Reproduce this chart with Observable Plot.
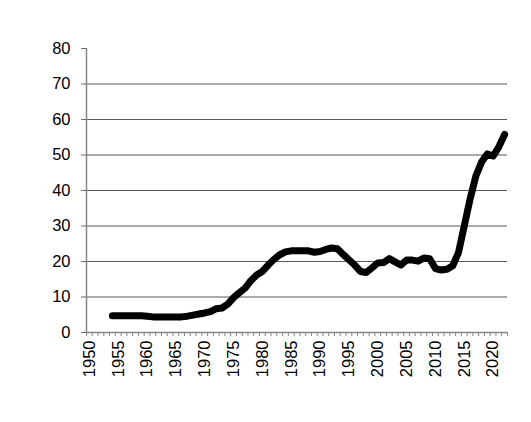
<!DOCTYPE html>
<html><head><meta charset="utf-8">
<script src="https://cdn.jsdelivr.net/npm/d3@7"></script>
<script src="https://cdn.jsdelivr.net/npm/@observablehq/plot@0.6"></script>
<style>body{margin:0;background:#fff;} #chart{width:531px;height:422px;} #chart svg text{font-family:"Liberation Sans",Arial,sans-serif;}</style>
</head><body><div id="chart"></div>
<script>
const years = [1954,1955,1956,1957,1958,1959,1960,1961,1962,1963,1964,1965,1966,1967,1968,1969,1970,1971,1972,1973,1974,1975,1976,1977,1978,1979,1980,1981,1982,1983,1984,1985,1986,1987,1988,1989,1990,1991,1992,1993,1994,1995,1996,1997,1998,1999,2000,2001,2002,2003,2004,2005,2006,2007,2008,2009,2010,2011,2012,2013,2014,2015,2016,2017,2018,2019,2020,2021,2022];
const values = [4.7,4.7,4.7,4.7,4.7,4.7,4.6,4.4,4.4,4.4,4.4,4.4,4.4,4.6,4.9,5.2,5.5,5.9,6.7,6.9,8.0,9.8,11.2,12.5,14.6,16.2,17.2,19.0,20.6,21.9,22.7,23.0,23.0,23.0,23.0,22.6,22.8,23.4,23.8,23.6,22.0,20.5,19.0,17.2,16.9,18.2,19.6,19.7,20.8,19.9,19.0,20.4,20.4,20.1,21.0,20.8,18.0,17.6,17.8,18.8,22.5,30.0,37.5,44.0,48.0,50.3,49.7,52.3,55.8];
const yTicks = [0,10,20,30,40,50,60,70,80];
const gridValues = [10,20,30,40,50,60,70];
const xLabelYears = [1950,1955,1960,1965,1970,1975,1980,1985,1990,1995,2000,2005,2010,2015,2020];
const xStart = 1949.5, xEnd = 2022.5;
const boundaries = d3.range(xStart, xEnd + 0.01, 1);

const data = years.map((y, i) => ({year: y, value: values[i]}));

const chart = Plot.plot({
  width: 531, height: 422,
  marginLeft: 86, marginRight: 24, marginTop: 48, marginBottom: 90,
  style: {fontFamily: "'Liberation Sans', Arial, sans-serif", fontSize: "16.5px", color: "#000", background: "#fff"},
  x: {domain: [xStart, xEnd]},
  y: {domain: [0, 80]},
  marks: [
    Plot.ruleY(gridValues, {x1: xStart, x2: xEnd, stroke: "#595959", strokeWidth: 1.2}),
    Plot.ruleX([xStart], {y1: 0, y2: 80, stroke: "#868686", strokeWidth: 1.5}),
    Plot.ruleY([0], {x1: xStart, x2: xEnd, stroke: "#868686", strokeWidth: 1.5}),
    Plot.axisY(yTicks, {tickSize: 5, tickPadding: 11, stroke: "#6a6a6a", fill: "#000", fontSize: 16.5, label: null}),
    Plot.axisX(boundaries, {tickSize: 4, stroke: "#868686", tickFormat: () => "", label: null}),
    Plot.axisX(xLabelYears, {tickSize: 0, tickPadding: 8, tickRotate: -90, fill: "#000", fontSize: 16.5, tickFormat: d => String(d), label: null}),
    Plot.line(data, {x: "year", y: "value", stroke: "#000", strokeWidth: 7, strokeLinejoin: "round", strokeLinecap: "round"})
  ]
});
document.getElementById("chart").append(chart);
</script>
</body></html>
